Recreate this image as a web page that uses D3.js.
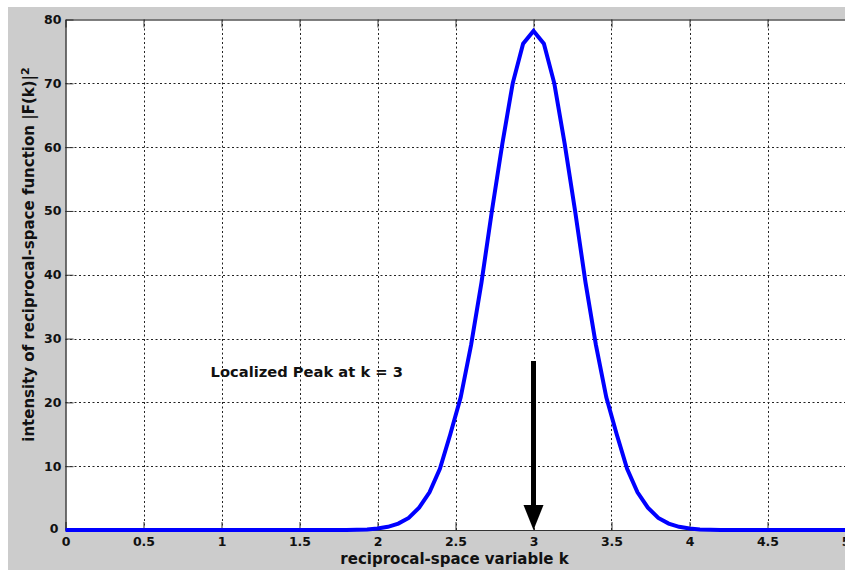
<!DOCTYPE html>
<html>
<head>
<meta charset="utf-8">
<script src="https://cdn.jsdelivr.net/npm/d3@7"></script>
<style>
  html, body { margin: 0; padding: 0; background: #fff; }
  svg { display: block; }
  text { font-family: "DejaVu Sans", sans-serif; font-weight: bold; fill: #111; }
</style>
</head>
<body>
<svg id="chart" width="845" height="571"></svg>
<script>
// ---- data ----
const kValues = [0, 1.8, 1.8667, 1.9333, 2.0, 2.0667, 2.1333, 2.2, 2.2667, 2.3333, 2.4, 2.4667, 2.5333,
  2.6, 2.6667, 2.7333, 2.8, 2.8667, 2.9333, 3.0, 3.0667, 3.1333, 3.2, 3.2667, 3.3333, 3.4, 3.4667,
  3.5333, 3.6, 3.6667, 3.7333, 3.8, 3.8667, 3.9333, 4.0, 4.0667, 4.1333, 4.2, 5];
const intensity = [0, 0, 0.03, 0.09, 0.22, 0.5, 1.0, 1.9, 3.5, 5.9, 9.6, 15.0, 20.8,
  29.0, 38.8, 50.0, 60.5, 70.0, 76.2, 78.2, 76.2, 70.0, 60.5, 50.0, 38.8, 29.0, 20.8,
  15.0, 9.6, 5.9, 3.5, 1.9, 1.0, 0.5, 0.22, 0.09, 0.03, 0, 0];
const xTicks = [0, 0.5, 1, 1.5, 2, 2.5, 3, 3.5, 4, 4.5, 5];
const xTickLabels = ["0", "0.5", "1", "1.5", "2", "2.5", "3", "3.5", "4", "4.5", "5"];
const yTicks = [0, 10, 20, 30, 40, 50, 60, 70, 80];
const yTickLabels = ["0", "10", "20", "30", "40", "50", "60", "70", "80"];
const annotationText = "Localized Peak at k = 3";
const annotationPos = [0.93, 24.0];   // data coords of text start (baseline)
const arrowFrom = [3, 26.5];
const arrowTo = [3, 0];
const xLabel = "reciprocal-space variable k";
const yLabel = "intensity of reciprocal-space function |F(k)|";

// ---- layout ----
const W = 845, H = 571;
const plot = { left: 65.5, top: 19.5, right: 845.5, bottom: 530 };
const FONT = '"DejaVu Sans", sans-serif';

const svg = d3.select("#chart");
svg.append("rect").attr("x", 0).attr("y", 0).attr("width", W).attr("height", H).attr("fill", "#fff");
svg.append("rect").attr("x", 8).attr("y", 7).attr("width", W - 8).attr("height", H - 8).attr("fill", "#cccccc");
svg.append("rect").attr("x", plot.left).attr("y", plot.top)
  .attr("width", plot.right - plot.left).attr("height", plot.bottom - plot.top).attr("fill", "#fff");

const x = d3.scaleLinear().domain([0, 5]).range([plot.left, plot.right]);
const y = d3.scaleLinear().domain([0, 80]).range([plot.bottom, plot.top]);

// grid
const grid = svg.append("g").attr("stroke", "#222").attr("stroke-width", 1).attr("stroke-dasharray", "2,2.5");
grid.selectAll(".gx").data(xTicks.slice(1, -1)).join("line")
  .attr("x1", d => Math.round(x(d)) + 0.5).attr("x2", d => Math.round(x(d)) + 0.5)
  .attr("y1", plot.top).attr("y2", plot.bottom);
grid.selectAll(".gy").data(yTicks.slice(1, -1)).join("line")
  .attr("y1", d => Math.round(y(d)) + 0.5).attr("y2", d => Math.round(y(d)) + 0.5)
  .attr("x1", plot.left).attr("x2", plot.right);

// axes (MATLAB style, inward ticks)
const xAxisB = d3.axisBottom(x).tickValues(xTicks).tickFormat((d, i) => xTickLabels[i]).tickSizeInner(-8).tickSizeOuter(0).tickPadding(7);
const gxB = svg.append("g").attr("transform", `translate(0,${plot.bottom})`).call(xAxisB);
const xAxisT = d3.axisTop(x).tickValues(xTicks).tickFormat("").tickSizeInner(-8).tickSizeOuter(0);
const gxT = svg.append("g").attr("transform", `translate(0,${plot.top})`).call(xAxisT);
const yAxisL = d3.axisLeft(y).tickValues(yTicks).tickFormat((d, i) => yTickLabels[i]).tickSizeInner(-8).tickSizeOuter(0).tickPadding(4);
const gyL = svg.append("g").attr("transform", `translate(${plot.left},0)`).call(yAxisL);

[gxB, gxT, gyL].forEach(g => {
  g.select(".domain").attr("stroke", "#333").attr("stroke-width", 1.2);
  g.selectAll(".tick line").attr("stroke", "#333").attr("stroke-width", 1);
  g.selectAll("text").attr("font-size", 12.5).attr("font-weight", "bold")
    .attr("font-family", FONT).attr("fill", "#111");
});
gxT.select(".domain").attr("stroke", "#555").attr("stroke-width", 1.5);
gyL.select(".domain").attr("stroke", "#111");
// MATLAB places the y "0" label a bit further left
gyL.selectAll(".tick text").filter(d => d === 0).attr("x", -7).attr("dy", "0.2em");

// curve
const line = d3.line().x((d, i) => x(kValues[i])).y(d => y(d));
svg.append("path").datum(intensity)
  .attr("d", line)
  .attr("fill", "none").attr("stroke", "#0000ff").attr("stroke-width", 4)
  .attr("stroke-linejoin", "miter");

// annotation
svg.append("text").attr("x", x(annotationPos[0])).attr("y", y(annotationPos[1]))
  .attr("font-size", 14.7).text(annotationText);

// arrow
const ax = x(arrowFrom[0]);
const headLen = 25, headHalf = 10;
svg.append("line").attr("x1", ax).attr("x2", ax)
  .attr("y1", y(arrowFrom[1])).attr("y2", y(arrowTo[1]) - headLen + 2)
  .attr("stroke", "#000").attr("stroke-width", 5);
svg.append("path")
  .attr("d", `M${ax - headHalf},${y(arrowTo[1]) - headLen} L${ax + headHalf},${y(arrowTo[1]) - headLen} L${ax},${y(arrowTo[1])} Z`)
  .attr("fill", "#000");

// axis labels
svg.append("text").attr("x", 454.5).attr("y", 564)
  .attr("text-anchor", "middle").attr("font-size", 15).text(xLabel);

const yl = svg.append("text").attr("transform", `translate(34,254.5) rotate(-90)`)
  .attr("text-anchor", "middle").attr("font-size", 15);
yl.append("tspan").text(yLabel);
yl.append("tspan").attr("dy", "-0.5em").attr("font-size", 11).text("2");
</script>
</body>
</html>
